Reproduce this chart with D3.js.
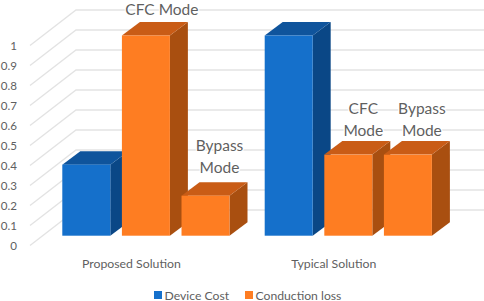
<!DOCTYPE html>
<html><head><meta charset="utf-8">
<script src="https://cdn.jsdelivr.net/npm/d3@7"></script>
<style>html,body{margin:0;padding:0;background:#fff}svg{display:block}text{font-family:Lato,sans-serif}</style>
</head><body><svg id="c" width="484" height="301"></svg>
<script>
const categories = ["Proposed Solution", "Typical Solution"];
const seriesKeys = ["Device Cost", "CFC", "Bypass"];
const deviceCost = [0.355, 1];
const cfcMode = [1, 0.405];
const bypassMode = [0.2, 0.405];
const yTicks = [0, 0.1, 0.2, 0.3, 0.4, 0.5, 0.6, 0.7, 0.8, 0.9, 1];
const yTickLabels = ["0", "0.1", "0.2", "0.3", "0.4", "0.5", "0.6", "0.7", "0.8", "0.9", "1"];
const legendNames = ["Device Cost", "Conduction loss"];
const seriesValues = [deviceCost, cfcMode, bypassMode];

const blue = {front:"#1570CB", top:"#0F549C", side:"#0A4786"};
const orange = {front:"#FE7D22", top:"#C95C16", side:"#A94F10"};
const seriesColors = [blue, orange, orange];

const svg = d3.select("#c");
const ink = "#5f5f5f", grid = "#e3e3e3";

// front plane of the axis wall, and 3-D offsets
const yFront = d3.scaleLinear().domain([0, 1]).range([245.5, 45.5]);
const yBar = d3.scaleLinear().domain([0, 1]).range([235.7, 35.5]);
const wallDx = 46, wallDy = -35.5;
const depthX = 18, depthY = -13.5;
const rightEdge = 484;

const x0 = d3.scaleBand().domain(categories).range([45, 449.8]);
const x1 = d3.scaleBand().domain(seriesKeys).range([17.3, 184.5]).paddingInner(0.195).paddingOuter(0);

// gridlines
const gridG = svg.append("g").attr("fill", "none").attr("stroke", grid).attr("stroke-width", 1.3);
gridG.selectAll("path").data(yTicks).join("path")
  .attr("d", t => {
    const p = d3.path();
    p.moveTo(30, yFront(t));
    p.lineTo(30 + wallDx, yFront(t) + wallDy);
    p.lineTo(rightEdge, yFront(t) + wallDy);
    return p.toString();
  });

// y axis labels
const yAxis = d3.axisLeft(yFront).tickValues(yTicks).tickSize(0).tickPadding(0)
  .tickFormat((d, i) => yTickLabels[i]);
const yG = svg.append("g").attr("transform", "translate(17,0.5)").call(yAxis);
yG.select(".domain").remove();
yG.selectAll("text").attr("font-size", 11.6).attr("fill", ink).style("font-family", "Lato,sans-serif");

// bars
function poly(pts){ return d3.line()(pts) + "Z"; }
const bars = [];
categories.forEach((c, ci) => seriesKeys.forEach((k, si) => {
  bars.push({c, k, v: seriesValues[si][ci], col: seriesColors[si]});
}));
const barG = svg.append("g");
bars.forEach(b => {
  const l = x0(b.c) + x1(b.k), w = x1.bandwidth(), r = l + w;
  const t = yBar(b.v), bt = yBar(0);
  const g = barG.append("g");
  g.append("path").attr("fill", b.col.side)
    .attr("d", poly([[r,t],[r+depthX,t+depthY],[r+depthX,bt+depthY],[r,bt]]));
  g.append("path").attr("fill", b.col.top)
    .attr("d", poly([[l,t],[l+depthX,t+depthY],[r+depthX,t+depthY],[r,t]]));
  g.append("rect").attr("fill", b.col.front).attr("x", l).attr("y", t).attr("width", w).attr("height", bt - t);
});

// mode labels
function modeLabel(lines, cx, y, size) {
  lines.forEach((s, i) => {
    svg.append("text").text(s).attr("x", cx).attr("y", y + i * 22)
      .attr("text-anchor", "middle").attr("dominant-baseline", "central")
      .attr("font-size", size).attr("fill", ink)
      .attr("stroke", "#fff").attr("stroke-width", 2.5).attr("paint-order", "stroke");
  });
}
const cx = (cat, key) => x0(cat) + x1(key) + x1.bandwidth() / 2;
modeLabel(["CFC Mode"], cx(categories[0], "CFC") + 16, yBar(1) - 27, 15.5);
modeLabel(["Bypass", "Mode"], cx(categories[0], "Bypass") + 14, yBar(0.2) - 51, 15.5);
modeLabel(["CFC", "Mode"], cx(categories[1], "CFC") + 15, yBar(0.405) - 47, 15.5);
modeLabel(["Bypass", "Mode"], cx(categories[1], "Bypass") + 14, yBar(0.405) - 47, 15.5);

// category labels
svg.append("g").selectAll("text").data(categories).join("text")
  .text(d => d)
  .attr("x", d => x0(d) + x1("CFC") + x1.bandwidth() / 2 - 14.5)
  .attr("y", 263).attr("text-anchor", "middle").attr("dominant-baseline", "central")
  .attr("font-size", 12.3).attr("fill", ink);

// legend
const legendX = d3.scaleOrdinal().domain(legendNames).range([154, 245]);
const legendC = d3.scaleOrdinal().domain(legendNames).range([blue.front, orange.front]);
const lg = svg.append("g").selectAll("g").data(legendNames).join("g")
  .attr("transform", d => `translate(${legendX(d)},291)`);
lg.append("rect").attr("width", 8).attr("height", 8).attr("fill", d => legendC(d));
lg.append("text").text(d => d).attr("x", 10.5).attr("y", 4)
  .attr("dominant-baseline", "central").attr("font-size", 12.2).attr("fill", ink);
</script></body></html>
